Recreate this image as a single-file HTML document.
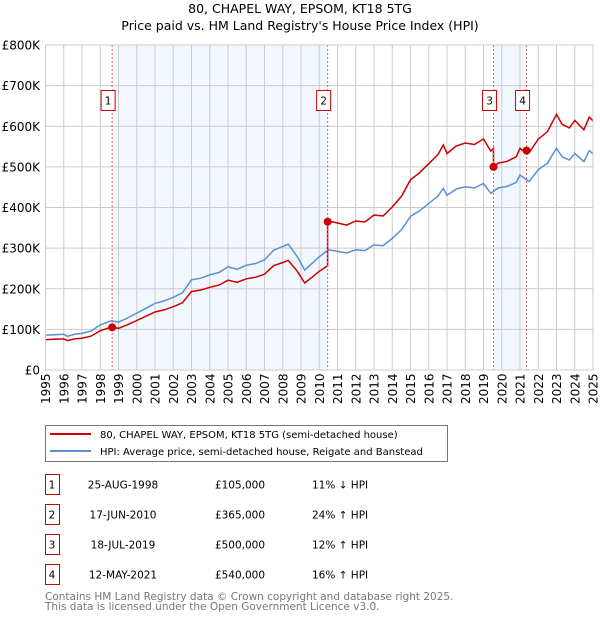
<!DOCTYPE html>
<html><head><meta charset="utf-8"><style>
body{margin:0;background:#fff;}
svg text{font-family:"DejaVu Sans","Liberation Sans",sans-serif;}
</style></head><body>
<svg id="c" width="600" height="620" xmlns="http://www.w3.org/2000/svg">
<text x="300" y="13" text-anchor="middle" font-size="12.5">80, CHAPEL WAY, EPSOM, KT18 5TG</text>
<text x="300" y="30" text-anchor="middle" font-size="12.5">Price paid vs. HM Land Registry's House Price Index (HPI)</text>
<g id="plot"></g>
<rect x="45.5" y="425.5" width="402" height="36" fill="#fff" stroke="#777"/>
<line x1="50" y1="434" x2="91" y2="434" stroke="#cc0000" stroke-width="2"/>
<text x="100" y="438" font-size="10">80, CHAPEL WAY, EPSOM, KT18 5TG (semi-detached house)</text>
<line x1="50" y1="451" x2="91" y2="451" stroke="#5b8fd4" stroke-width="2"/>
<text x="100" y="455" font-size="10">HPI: Average price, semi-detached house, Reigate and Banstead</text>
<g id="table" font-size="10"></g>
<text x="45" y="600" font-size="10.5" fill="#777">Contains HM Land Registry data © Crown copyright and database right 2025.</text>
<text x="45" y="610" font-size="10.5" fill="#777">This data is licensed under the Open Government Licence v3.0.</text>
</svg>
<script>
const years=[1995,1996,1997,1998,1999,2000,2001,2002,2003,2004,2005,2006,2007,2008,2009,2010,2011,2012,2013,2014,2015,2016,2017,2018,2019,2020,2021,2022,2023,2024,2025];
const yTicks=[0,100000,200000,300000,400000,500000,600000,700000,800000];
const yTickLabels=["£0","£100K","£200K","£300K","£400K","£500K","£600K","£700K","£800K"];
const hpiDates=[1995,1995.5,1996,1996.2,1996.6,1997,1997.5,1998,1998.6,1999,1999.5,2000,2000.5,2001,2001.5,2002,2002.5,2003,2003.5,2004,2004.5,2005,2005.5,2006,2006.5,2007,2007.5,2008,2008.3,2008.8,2009.2,2009.6,2010,2010.5,2011,2011.5,2012,2012.5,2013,2013.5,2014,2014.5,2015,2015.5,2016,2016.5,2016.8,2017,2017.5,2018,2018.5,2019,2019.4,2019.8,2020.3,2020.8,2021,2021.5,2022,2022.5,2023,2023.3,2023.7,2024,2024.5,2024.8,2025];
const hpiValues=[86000,87000,88000,83000,88000,90000,96000,111000,121000,118000,128000,140000,152000,164000,170000,179000,190000,222000,226000,234000,240000,254000,248000,258000,262000,271000,295000,304000,310000,279000,246000,262000,279000,296000,292000,288000,296000,294000,308000,306000,324000,345000,378000,392000,410000,428000,447000,430000,445000,451000,448000,459000,435000,448000,452000,462000,480000,464000,493000,509000,546000,525000,517000,533000,513000,540000,532000];
const saleDates=[1998.65,2010.46,2019.55,2021.36];
const salePrices=[105000,365000,500000,540000];
const saleLabels=["25-AUG-1998","17-JUN-2010","18-JUL-2019","12-MAY-2021"];
const salePrice=["£105,000","£365,000","£500,000","£540,000"];
const saleHpi=["11% ↓ HPI","24% ↑ HPI","12% ↑ HPI","16% ↑ HPI"];

const X0=45.5,X1=593,Y0=370,Y1=45;
const xs=d=>X0+(d-1995)/(2025-1995)*(X1-X0);
const ys=v=>Y0-v/800000*(Y0-Y1);
const NS="http://www.w3.org/2000/svg";
const plot=document.getElementById('plot');
function mk(tag,attrs,parent){const e=document.createElementNS(NS,tag);for(const k in attrs)e.setAttribute(k,attrs[k]);(parent||plot).appendChild(e);return e;}
function hpiAt(d){for(let i=1;i<hpiDates.length;i++){if(d<=hpiDates[i]){const t=(d-hpiDates[i-1])/(hpiDates[i]-hpiDates[i-1]);return hpiValues[i-1]+t*(hpiValues[i]-hpiValues[i-1]);}}return hpiValues[hpiValues.length-1];}

let r=mk('rect',{x:X0,y:Y1,width:X1-X0,height:Y0-Y1,fill:'#fff'});


for(let k=0;k<4;k+=2){
 const s=mk('rect',{x:xs(saleDates[k]),y:Y1,width:xs(saleDates[k+1])-xs(saleDates[k]),height:Y0-Y1,fill:'#eef3fc',opacity:0.75});
 
 
}
years.forEach(y=>{
 const l=mk('line',{x1:xs(y),x2:xs(y),y1:Y1,y2:Y0,stroke:'#ccc','stroke-width':1});
 
 
 const t=mk('text',{transform:`translate(${xs(y)+4.5},${Y0+34}) rotate(-90)`,'font-size':12});
 t.textContent=y;
 
 
});
yTicks.forEach((v,i)=>{
 const l=mk('line',{x1:X0,x2:X1,y1:ys(v),y2:ys(v),stroke:'#ccc','stroke-width':1});
 
 
 const t=mk('text',{x:40,y:ys(v)+4.5,'text-anchor':'end','font-size':12});
 t.textContent=yTickLabels[i];
 
 
});
let hp=hpiDates.map((d,i)=>xs(d).toFixed(1)+','+ys(hpiValues[i]).toFixed(1)).join(' ');
let hl=mk('polyline',{points:hp,fill:'none',stroke:'#5b8fd4','stroke-width':1.5});


function factorAt(d){let k=0;for(let i=0;i<saleDates.length;i++)if(d>=saleDates[i])k=i;return salePrices[k]/hpiAt(saleDates[k]);}
let pts=[];
let allD=hpiDates.concat(saleDates).sort((a,b)=>a-b);
allD.forEach(d=>{
 if(saleDates.includes(d)){const k=saleDates.indexOf(d);const prev=k>0?salePrices[k-1]/hpiAt(saleDates[k-1]):salePrices[0]/hpiAt(saleDates[0]);pts.push([d,hpiAt(d)*prev]);pts.push([d,salePrices[k]]);}
 else pts.push([d,hpiAt(d)*factorAt(d)]);
});
let pl=mk('polyline',{points:pts.map(p=>xs(p[0]).toFixed(1)+','+ys(p[1]).toFixed(1)).join(' '),fill:'none',stroke:'#cc0000','stroke-width':1.5});


saleDates.forEach((d,i)=>{
 const l=mk('line',{x1:xs(d),x2:xs(d),y1:Y1,y2:Y0,stroke:'#e06060','stroke-width':1,'stroke-dasharray':'2,2'});
 
 
 const c=mk('circle',{cx:xs(d),cy:ys(salePrices[i]),r:4,fill:'#cc0000'});
 
 
 const b=mk('rect',{x:xs(d)-11,y:90.5,width:14,height:20,fill:'#fff',stroke:'#cc0000'});
 
 
 const t=mk('text',{x:xs(d)-4,y:104.5,'text-anchor':'middle','font-size':10.5});
 t.textContent=i+1;
 
 
});
let ax=mk('rect',{x:X0,y:Y1,width:X1-X0,height:Y0-Y1,fill:'none',stroke:'#ccc'});


const tb=document.getElementById('table');
const rowY=[485,515,545,575];
saleDates.forEach((d,i)=>{
 const y=rowY[i];
 const b=mk('rect',{x:45.5,y:y-10.5,width:14,height:20,fill:'#fff',stroke:'#cc0000'},tb);
 
 
 const cells=[[52,String(i+1),'middle'],[123,saleLabels[i],'middle'],[240,salePrice[i],'middle'],[312,saleHpi[i],'start']];
 const names=['table-row-number','table-sale-date','table-sale-price','table-hpi-diff'];
 cells.forEach((c,j)=>{
  const t=mk('text',{x:c[0],y:y+3.5,'text-anchor':c[2],'font-size':10.5},tb);
  t.textContent=c[1];
  
  
 });
});
</script>
</body></html>
